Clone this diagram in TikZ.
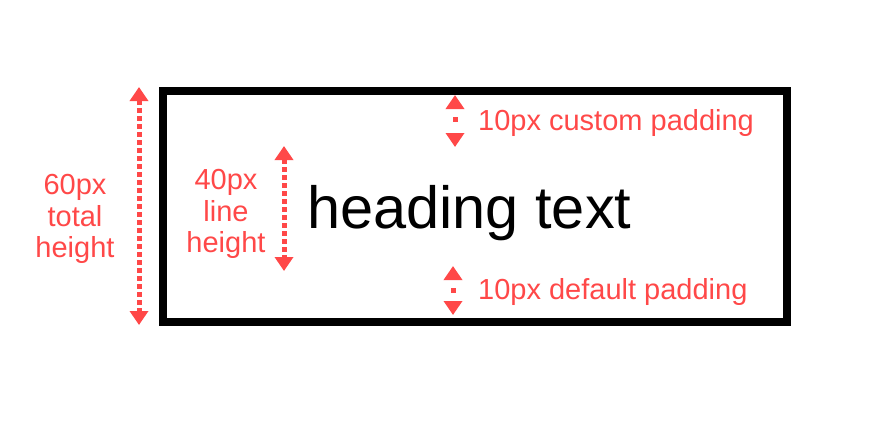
\documentclass[tikz,border=0pt]{standalone}
\usepackage{fontspec}
\setmainfont{Liberation Sans}
\usetikzlibrary{arrows.meta}
\definecolor{dimred}{RGB}{255,72,72}
\begin{document}
\begin{tikzpicture}
  [x=1pt,y=-1pt,
   dim/.style={dimred,line width=5pt,dash pattern=on 5pt off 3pt,
     {Triangle[width=18pt,length=14pt]}-{Triangle[width=18pt,length=14pt]}},
   lbl/.style={text=dimred,inner sep=0pt,align=center,font=\fontsize{29}{31.5}\selectfont}]
  \useasboundingbox (0,0) rectangle (880,421);

  % the heading box
  \draw[line width=8pt] (163,91) rectangle (787,322);
  \node[anchor=base west,inner sep=0pt,font=\fontsize{59.5}{59.5}\selectfont] (head) at (307,228) {heading text};

  % arrow end points
  \coordinate (tot top) at (139,87);
  \coordinate (tot bot) at (139,325);
  \coordinate (lh top) at (284,146);
  \coordinate (lh bot) at (284,271);
  \coordinate (cp top) at (455,95);
  \coordinate (cp bot) at (455,147);
  \coordinate (dp top) at (453,266);
  \coordinate (dp bot) at (453,315);

  \foreach \from/\to in {tot top/tot bot, lh top/lh bot}
    \draw[dim] (\from) -- (\to);
  % short arrows: one square in the middle
  \foreach \from/\to in {cp top/cp bot, dp top/dp bot}
    \draw[dim,dash pattern=on 5pt off 30pt,dash phase=26pt] (\from) -- (\to);

  \node[lbl] (total) at (75,219) {60px\\total\\height};
  \node[lbl] (lineh) at (226,214) {40px\\line\\height};
  \node[lbl,anchor=west] (custom) at (478,123) {10px custom padding};
  \node[lbl,anchor=west] (default) at (478,292) {10px default padding};
\end{tikzpicture}
\end{document}
